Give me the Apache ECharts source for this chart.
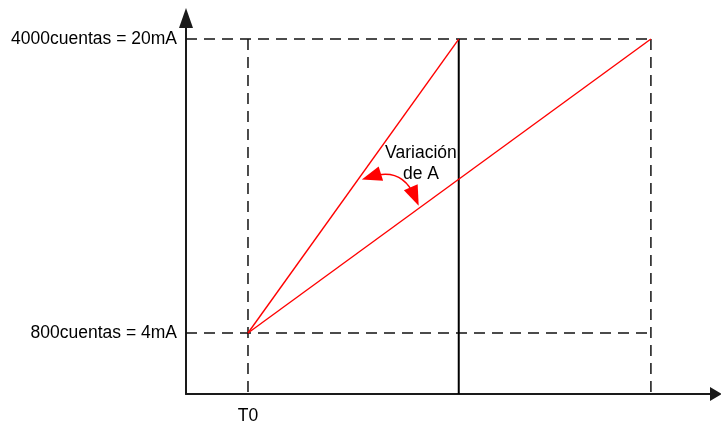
<!DOCTYPE html>
<html>
<head>
<meta charset="utf-8">
<script src="https://cdn.jsdelivr.net/npm/echarts@6/dist/echarts.min.js"></script>
<style>
  html, body { margin: 0; padding: 0; background: #fff; }
  #chart { width: 721px; height: 423px; }
</style>
</head>
<body>
<div id="chart"></div>
<script>
// Time instants (arbitrary units): T0, end of the fast ramp, end of the slow ramp
const timePoints = [10, 44, 75];
const timeLabels = ['T0', '', ''];
// Count levels of the analog range and the current they stand for
const countLevels = [800, 4000];
const currentLevels = ['4mA', '20mA'];
// Ramps as [time, counts]
const fastRamp = [[10, 800], [44, 4000]];
const slowRamp = [[10, 800], [75, 4000]];
// Double-headed curved arrow between both ramps, [time, counts]
const variationArc = [[29.9, 2503], [36.9, 2286]];
const variationLabelPos = [37.9, 2640];
const variationText = 'Variación\nde A';

const X_MIN = 0, X_MAX = 85.5;
const Y_MIN = 136, Y_MAX = 4229;
const FONT = "'Liberation Sans', Arial, sans-serif";
const TEXT_SIZE = 17.5;

const t0 = timePoints[0], tFast = timePoints[1], tSlow = timePoints[2];
const lowC = countLevels[0], highC = countLevels[1];

const dashStyle = { color: '#111', width: 1.5, type: [11, 7] };

function guide(data, style) {
  return {
    type: 'line', data: data, symbol: 'none', silent: true, z: 2,
    lineStyle: style, animation: false
  };
}

const chart = echarts.init(document.getElementById('chart'), null, { renderer: 'canvas' });
chart.setOption({
  backgroundColor: '#fff',
  animation: false,
  grid: {
    left: 186, right: 5, top: 18, bottom: 29,
    containLabel: false, outerBoundsMode: 'none'
  },
  xAxis: {
    type: 'value', min: X_MIN, max: X_MAX,
    splitLine: { show: false },
    axisTick: { show: false },
    axisLine: {
      onZero: false,
      lineStyle: { color: '#1a1a1a', width: 2 },
      symbol: ['none', 'triangle'], symbolSize: [14, 12]
    },
    axisLabel: {
      customValues: [t0],
      formatter: function (v) { return timeLabels[timePoints.indexOf(v)] || ''; },
      fontFamily: FONT, fontSize: TEXT_SIZE, color: '#000', margin: 13
    }
  },
  yAxis: {
    type: 'value', min: Y_MIN, max: Y_MAX,
    splitLine: { show: false },
    axisTick: { show: false },
    axisLine: {
      onZero: false,
      lineStyle: { color: '#1a1a1a', width: 2 },
      symbol: ['none', 'triangle'], symbolSize: [14, 20]
    },
    axisLabel: {
      customValues: countLevels,
      formatter: function (v) {
        const i = countLevels.indexOf(v);
        return i < 0 ? '' : v + 'cuentas = ' + currentLevels[i];
      },
      fontFamily: FONT, fontSize: TEXT_SIZE, color: '#000', margin: 9
    }
  },
  series: [
    guide([[X_MIN, highC], [tSlow, highC]], dashStyle),
    guide([[X_MIN, lowC], [tSlow, lowC]], dashStyle),
    guide([[t0, highC], [t0, Y_MIN]], dashStyle),
    guide([[tSlow, highC], [tSlow, Y_MIN]], dashStyle),
    guide([[tFast, highC], [tFast, Y_MIN]], { color: '#000', width: 2 }),
    {
      type: 'line', data: fastRamp, symbol: 'none', z: 4,
      lineStyle: { color: '#ff0000', width: 1.4 }
    },
    {
      type: 'line', data: slowRamp, symbol: 'none', z: 4,
      lineStyle: { color: '#ff0000', width: 1.4 }
    },
    {
      type: 'lines', coordinateSystem: 'cartesian2d', z: 5,
      symbol: ['triangle', 'triangle'],
      symbolSize: [[15, 20], [15, 20]],
      lineStyle: { color: '#ff0000', width: 1.5, curveness: 0.45, opacity: 1 },
      itemStyle: { color: '#ff0000' },
      data: [{ coords: variationArc }]
    },
    {
      type: 'scatter', symbolSize: 0, z: 6, silent: true,
      data: [variationLabelPos],
      itemStyle: { opacity: 1 },
      label: {
        show: true, position: 'inside', formatter: variationText, opacity: 1,
        fontFamily: FONT, fontSize: TEXT_SIZE, lineHeight: 21, color: '#000', align: 'center'
      }
    }
  ]
});
</script>
</body>
</html>
